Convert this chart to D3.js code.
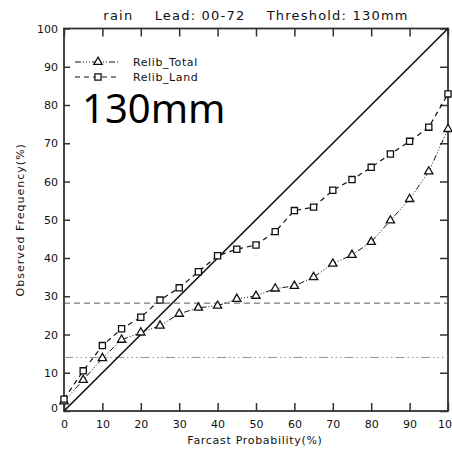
<!DOCTYPE html>
<html>
<head>
<meta charset="utf-8">
<script src="https://cdn.jsdelivr.net/npm/d3@7"></script>
<style>
  body { margin: 0; background: #fff; }
  svg { display: block; }
  .tick text { font-family: "DejaVu Sans", sans-serif; font-size: 11px; fill: #111; }
  .lbl { font-family: "DejaVu Sans", sans-serif; fill: #111; }
</style>
</head>
<body>
<div id="chart"></div>
<script>
// forecast probability bins (%)
const probs = d3.range(0, 101, 5);
// observed frequency (%)
const relibTotal = [2.5, 8.1, 13.8, 18.6, 20.5, 22.3, 25.4, 27.0, 27.5, 29.3, 30.1, 32.0, 32.7, 35.0, 38.5, 40.8, 44.2, 49.8, 55.4, 62.6, 73.7];
const relibLand  = [3.1, 10.5, 17.1, 21.5, 24.5, 29.0, 32.2, 36.4, 40.6, 42.3, 43.4, 46.9, 52.4, 53.3, 57.7, 60.5, 63.7, 67.2, 70.5, 74.2, 82.9];
// reference lines
const climLand = 28.2;
const climTotal = 14.0;
const tickVals = d3.range(0, 101, 10);
const seriesNames = ['Relib_Total', 'Relib_Land'];

const width = 452, height = 455;
const margin = {top: 28.5, right: 4, bottom: 44, left: 64};

const svg = d3.select('#chart').append('svg')
    .attr('width', width)
    .attr('height', height);

const x = d3.scaleLinear().domain([0, 100]).range([margin.left, width - margin.right]);
const y = d3.scaleLinear().domain([0, 100]).range([height - margin.bottom, margin.top]);

// axes with inward ticks
svg.append('g')
    .attr('transform', `translate(0,${y(0)})`)
    .call(d3.axisBottom(x).tickValues(tickVals).tickSize(-8).tickSizeOuter(0).tickPadding(9));
svg.append('g')
    .attr('transform', `translate(0,${y(100)})`)
    .call(d3.axisTop(x).tickValues(tickVals).tickSize(-8).tickSizeOuter(0).tickFormat(''));
const yAxis = svg.append('g')
    .attr('transform', `translate(${x(0)},0)`)
    .call(d3.axisLeft(y).tickValues(tickVals).tickSize(-6).tickSizeOuter(0).tickPadding(6));
svg.append('g')
    .attr('transform', `translate(${x(100)},0)`)
    .call(d3.axisRight(y).tickValues(tickVals).tickSize(-8).tickSizeOuter(0).tickFormat(''));

svg.selectAll('.domain').remove();
svg.selectAll('.tick line').attr('stroke', '#333').attr('stroke-width', 1.5);
// the 0 label sits a little higher in the original
yAxis.selectAll('.tick').filter(d => d === 0).select('text').attr('y', -3);

// frame
svg.append('rect')
    .attr('x', x(0)).attr('y', y(100))
    .attr('width', x(100) - x(0)).attr('height', y(0) - y(100))
    .attr('fill', 'none').attr('stroke', '#333').attr('stroke-width', 1.8);

// climatology lines
svg.append('line')
    .attr('x1', x(0)).attr('x2', x(100))
    .attr('y1', y(climLand)).attr('y2', y(climLand))
    .attr('stroke', '#444').attr('stroke-width', 0.9)
    .attr('stroke-dasharray', '6,4');
svg.append('line')
    .attr('x1', x(0)).attr('x2', x(100))
    .attr('y1', y(climTotal)).attr('y2', y(climTotal))
    .attr('stroke', '#888').attr('stroke-width', 0.9)
    .attr('stroke-dasharray', '9,3,1.5,3,1.5,3,1.5,3');

// perfect reliability diagonal
svg.append('line')
    .attr('x1', x(0)).attr('y1', y(0))
    .attr('x2', x(100)).attr('y2', y(100))
    .attr('stroke', '#111').attr('stroke-width', 1.6);

const line = d3.line().x((d, i) => x(probs[i])).y(d => y(d));
const totalDash = '6,2,1,2,1,2,1,2';
const landDash = '5,4';

svg.append('path')
    .datum(relibTotal)
    .attr('d', line)
    .attr('fill', 'none').attr('stroke', '#111').attr('stroke-width', 1)
    .attr('stroke-dasharray', totalDash);
svg.append('path')
    .datum(relibLand)
    .attr('d', line)
    .attr('fill', 'none').attr('stroke', '#111').attr('stroke-width', 1.2)
    .attr('stroke-dasharray', landDash);

const tri = d3.symbol().type(d3.symbolTriangle).size(30);
const sq = d3.symbol().type(d3.symbolSquare).size(38);

svg.selectAll('.m-total')
    .data(relibTotal)
    .join('path')
    .attr('class', 'm-total')
    .attr('transform', (d, i) => `translate(${x(probs[i])},${y(d)})`)
    .attr('d', tri)
    .attr('fill', '#fff').attr('stroke', '#111').attr('stroke-width', 1.3);
svg.selectAll('.m-land')
    .data(relibLand)
    .join('path')
    .attr('class', 'm-land')
    .attr('transform', (d, i) => `translate(${x(probs[i])},${y(d)})`)
    .attr('d', sq)
    .attr('fill', '#fff').attr('stroke', '#111').attr('stroke-width', 1.3);

// legend
const legend = svg.append('g').attr('transform', 'translate(75,62)');
const legendRows = [
    {name: seriesNames[0], dash: totalDash, sym: tri},
    {name: seriesNames[1], dash: landDash, sym: sq}
];
legendRows.forEach((r, i) => {
    const g = legend.append('g').attr('transform', `translate(0,${i * 15})`);
    g.append('line').attr('x1', 0).attr('x2', 45).attr('y1', 0).attr('y2', 0)
        .attr('stroke', '#111').attr('stroke-width', 1).attr('stroke-dasharray', r.dash);
    g.append('path').attr('transform', 'translate(23,0)').attr('d', r.sym)
        .attr('fill', '#fff').attr('stroke', '#111').attr('stroke-width', 1.3);
    g.append('text').attr('class', 'lbl').attr('x', 58).attr('dy', '0.35em')
        .style('font-size', '11px').style('letter-spacing', '0.6px').text(r.name);
});

// title
svg.append('text').attr('class', 'lbl')
    .attr('x', 256).attr('y', 20)
    .attr('text-anchor', 'middle')
    .style('font-size', '13px')
    .style('letter-spacing', '1.2px')
    .attr('xml:space', 'preserve')
    .text('rain    Lead: 00-72    Threshold: 130mm');

// big annotation
svg.append('text')
    .attr('x', 82).attr('y', 123)
    .style('font-family', '"Noto Sans", sans-serif')
    .style('font-size', '40px')
    .attr('fill', '#000')
    .text('130mm');

// axis titles
svg.append('text').attr('class', 'lbl')
    .attr('x', x(50) - 1).attr('y', 444)
    .attr('text-anchor', 'middle')
    .style('font-size', '11px')
    .style('letter-spacing', '0.7px')
    .text('Farcast Probability(%)');
svg.append('text').attr('class', 'lbl')
    .attr('transform', `translate(24,${y(50)}) rotate(-90)`)
    .attr('text-anchor', 'middle')
    .style('font-size', '11px')
    .style('letter-spacing', '1px')
    .text('Observed Frequency(%)');
</script>
</body>
</html>
